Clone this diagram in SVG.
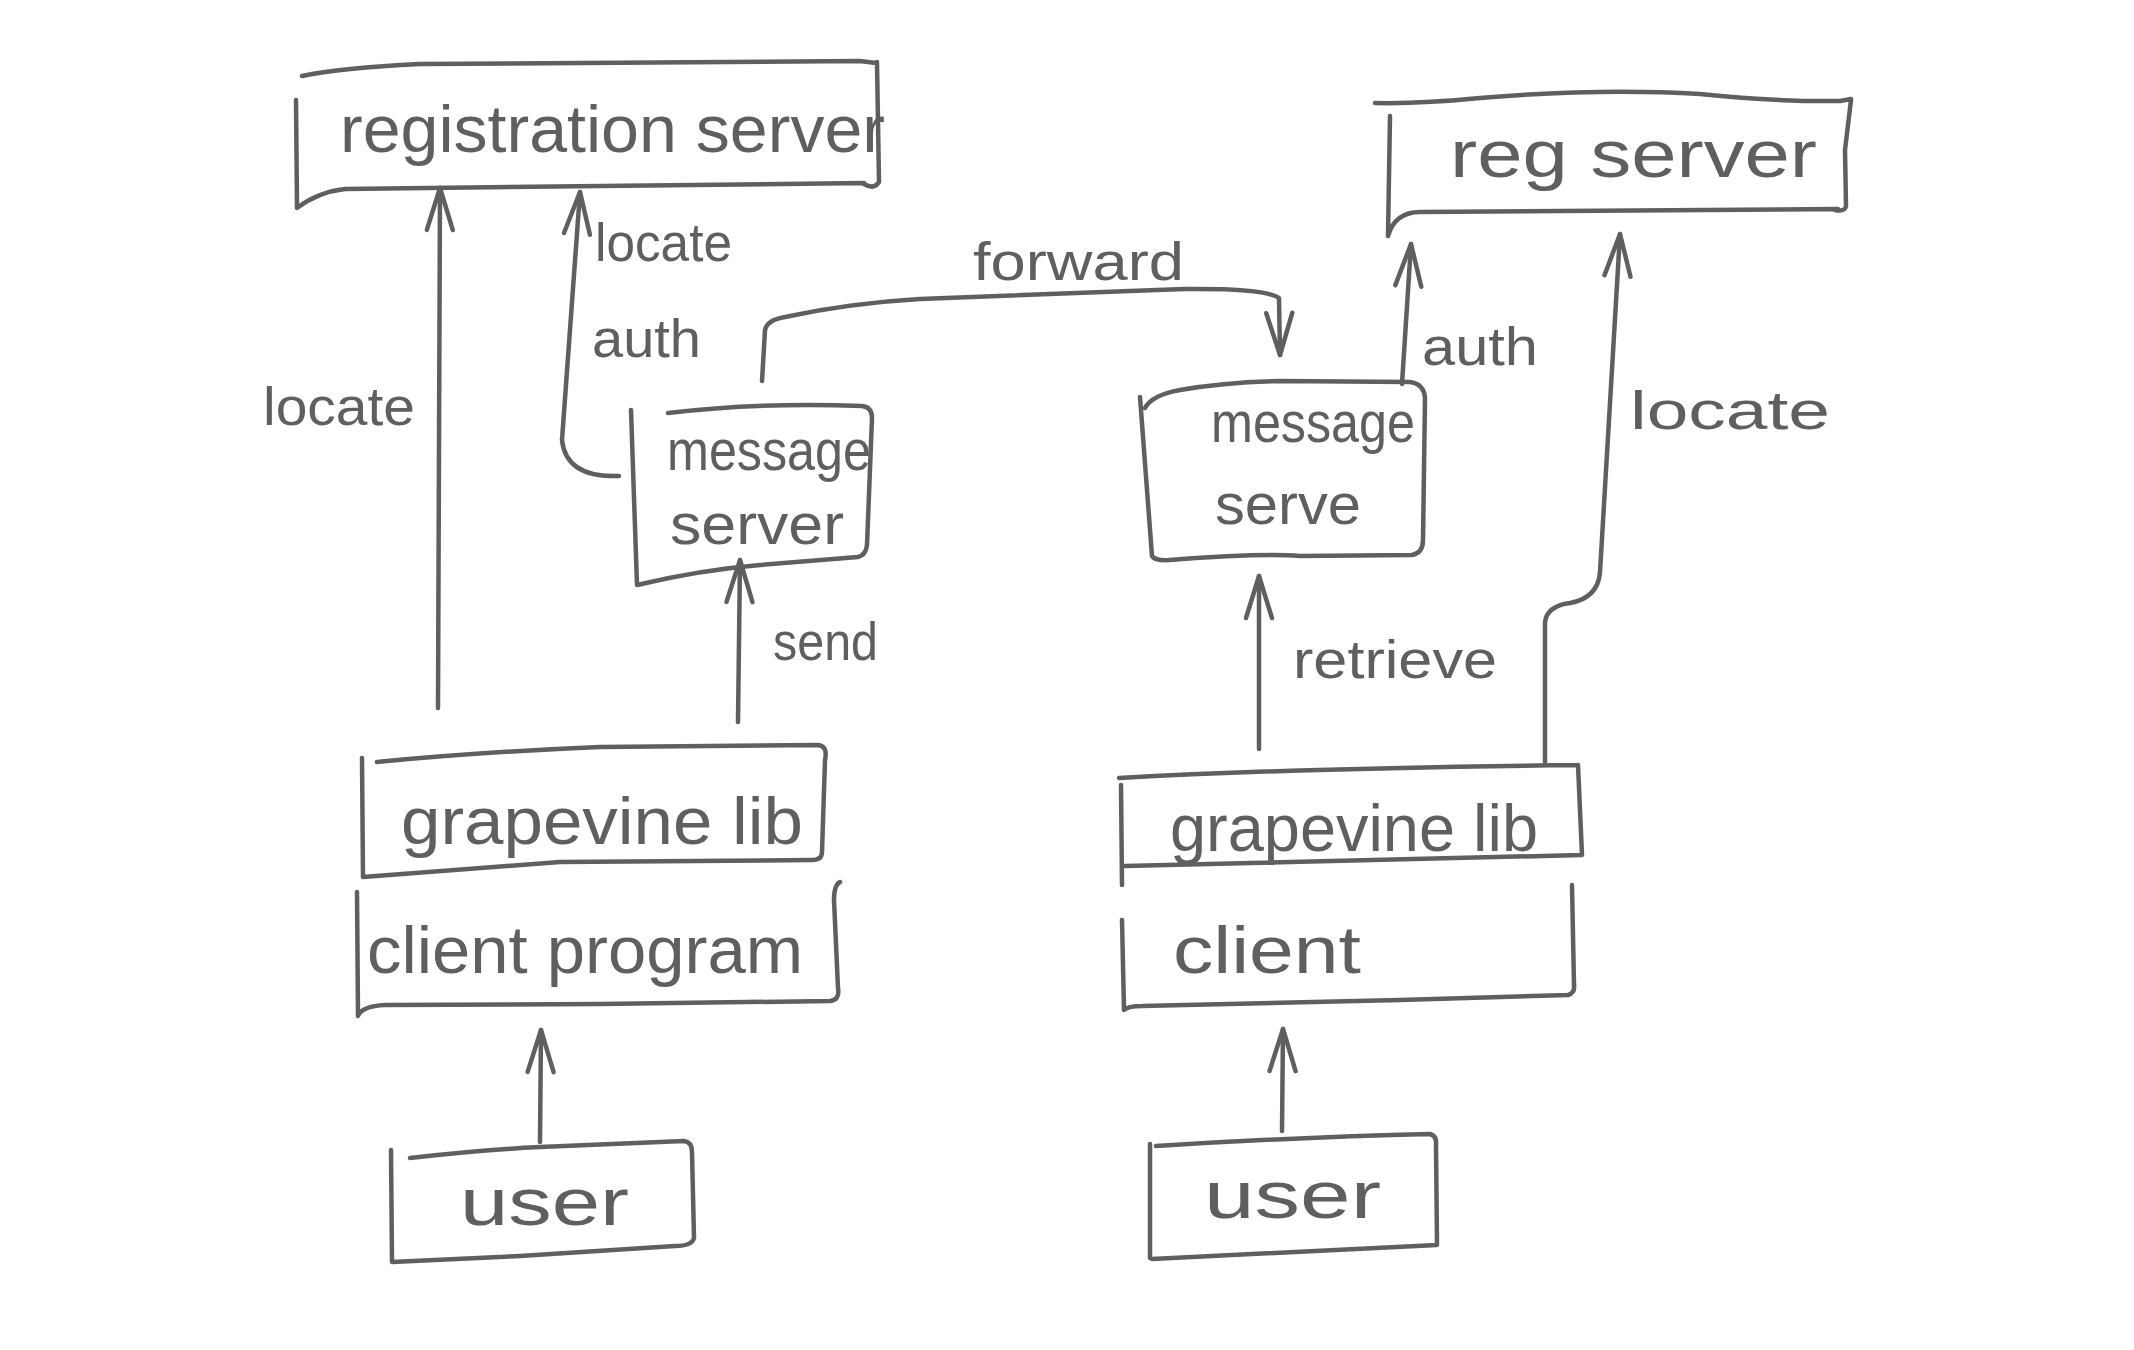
<svg xmlns="http://www.w3.org/2000/svg" width="2134" height="1350" viewBox="0 0 2134 1350">
<style>
.s{fill:none;stroke:#5f5f5f;stroke-width:4.5;stroke-linecap:round;stroke-linejoin:round}
.t{font-family:"Liberation Sans",Arial,sans-serif;fill:#5f5f5f}
.n{font-size:66px}
.m{font-size:58px}
.l{font-size:54px}
</style>
<defs>
<marker id="ah" markerUnits="userSpaceOnUse" markerWidth="60" markerHeight="60" viewBox="-40 -30 60 60" refX="0" refY="0" orient="auto" overflow="visible">
<path d="M -42,-13 L 0,0 L -42,13" fill="none" stroke="#5f5f5f" stroke-width="4.5" stroke-linecap="round" stroke-linejoin="round"/>
</marker>
</defs>
<rect width="2134" height="1350" fill="#ffffff"/>

<g id="connectors">
<path class="s" d="M 438,708 L 440,188" marker-end="url(#ah)"/>
<path class="s" d="M 619,476 Q 566,478 562,440 L 580,192" marker-end="url(#ah)"/>
<path class="s" d="M 762,381 L 765,330 Q 767,320 785,317 Q 850,303 920,299 L 1184,289 Q 1265,288 1279,298 L 1280,355" marker-end="url(#ah)"/>
<path class="s" d="M 1402,384 L 1411,244" marker-end="url(#ah)"/>
<path class="s" d="M 1545,762 L 1545,622 Q 1547,606 1570,603 Q 1598,598 1600,572 L 1620,234" marker-end="url(#ah)"/>
<path class="s" d="M 738,722 L 740,560" marker-end="url(#ah)"/>
<path class="s" d="M 1259,749 L 1259,576" marker-end="url(#ah)"/>
<path class="s" d="M 540,1142 L 541,1030" marker-end="url(#ah)"/>
<path class="s" d="M 1282,1131 L 1283,1029" marker-end="url(#ah)"/>
<text class="t l" x="263" y="425" textLength="152" lengthAdjust="spacingAndGlyphs">locate</text>
<text class="t l" x="595" y="261" textLength="137" lengthAdjust="spacingAndGlyphs">locate</text>
<text class="t l" x="592" y="357" textLength="109" lengthAdjust="spacingAndGlyphs">auth</text>
<text class="t l" x="973" y="280" textLength="211" lengthAdjust="spacingAndGlyphs">forward</text>
<text class="t l" x="1422" y="365" textLength="116" lengthAdjust="spacingAndGlyphs">auth</text>
<text class="t l" x="1630" y="429" textLength="200" lengthAdjust="spacingAndGlyphs">locate</text>
<text class="t l" x="773" y="660" textLength="105" lengthAdjust="spacingAndGlyphs">send</text>
<text class="t l" x="1293" y="678" textLength="204" lengthAdjust="spacingAndGlyphs">retrieve</text>
</g>

<g id="registration-server">
<path class="s" d="M 302,76 Q 340,68 420,64 L 860,61 L 876,63 M 877,62 L 879,182 Q 874,190 864,184 M 296,100 L 297,208 Q 318,192 345,189 L 864,183"/>
<text class="t n" x="340" y="152" textLength="545" lengthAdjust="spacingAndGlyphs">registration server</text>
</g>

<g id="reg-server">
<path class="s" d="M 1375,103 Q 1420,104 1480,98 Q 1600,88 1700,94 Q 1780,102 1840,101 L 1851,99 M 1851,100 L 1845,150 L 1846,206 Q 1845,212 1835,210 M 1390,116 L 1388,236 Q 1395,212 1420,212 L 1838,209"/>
<text class="t n" x="1450" y="177" textLength="367" lengthAdjust="spacingAndGlyphs">reg server</text>
</g>

<g id="message-server-left">
<path class="s" d="M 631,410 L 637,585 Q 700,570 760,565 L 858,557 Q 866,555 867,545 L 872,418 Q 872,407 862,406 Q 760,402 668,413"/>
<text class="t m" x="667" y="470" textLength="204" lengthAdjust="spacingAndGlyphs">message</text>
<text class="t m" x="670" y="544" textLength="174" lengthAdjust="spacingAndGlyphs">server</text>
</g>

<g id="message-server-right">
<path class="s" d="M 1140,397 L 1152,556 Q 1155,561 1170,560 Q 1260,553 1300,556 L 1412,555 Q 1423,553 1423,540 L 1425,398 Q 1424,384 1410,382 L 1280,381 Q 1225,382 1180,390 Q 1152,395 1145,408"/>
<text class="t m" x="1211" y="442" textLength="204" lengthAdjust="spacingAndGlyphs">message</text>
<text class="t m" x="1215" y="524" textLength="146" lengthAdjust="spacingAndGlyphs">serve</text>
</g>

<g id="grapevine-lib-left">
<path class="s" d="M 362,758 L 363,877 L 560,862 L 812,860 Q 822,860 822,852 L 825,760 Q 828,746 818,745 L 600,747 Q 480,752 377,762"/>
<text class="t n" x="401" y="844" textLength="402" lengthAdjust="spacingAndGlyphs">grapevine lib</text>
</g>

<g id="client-program">
<path class="s" d="M 357,892 L 358,1016 Q 362,1006 385,1005 L 600,1004 L 830,1001 Q 840,1000 838,988 L 834,900 Q 834,885 840,882"/>
<text class="t n" x="367" y="973" textLength="436" lengthAdjust="spacingAndGlyphs">client program</text>
</g>

<g id="user-left">
<path class="s" d="M 410,1158 Q 480,1150 540,1147 L 684,1141 Q 692,1142 692,1152 L 694,1238 Q 692,1246 675,1246 L 520,1256 L 392,1262 L 391,1150"/>
<text class="t n" x="460" y="1225" textLength="169" lengthAdjust="spacingAndGlyphs">user</text>
</g>

<g id="grapevine-lib-right">
<path class="s" d="M 1119,778 Q 1300,768 1578,765 M 1121,785 L 1122,885 M 1578,765 L 1582,855 M 1125,866 Q 1300,862 1582,855"/>
<text class="t n" x="1170" y="851" textLength="368" lengthAdjust="spacingAndGlyphs">grapevine lib</text>
</g>

<g id="client-right">
<path class="s" d="M 1122,920 L 1124,1010 Q 1128,1006 1142,1006 L 1400,1000 L 1568,995 Q 1575,993 1574,985 L 1572,885"/>
<text class="t n" x="1173" y="973" textLength="188" lengthAdjust="spacingAndGlyphs">client</text>
</g>

<g id="user-right">
<path class="s" d="M 1156,1146 Q 1300,1137 1430,1134 Q 1437,1136 1436,1145 L 1437,1245 L 1152,1259 M 1150,1144 L 1150,1258"/>
<text class="t n" x="1204" y="1218" textLength="177" lengthAdjust="spacingAndGlyphs">user</text>
</g>
</svg>
